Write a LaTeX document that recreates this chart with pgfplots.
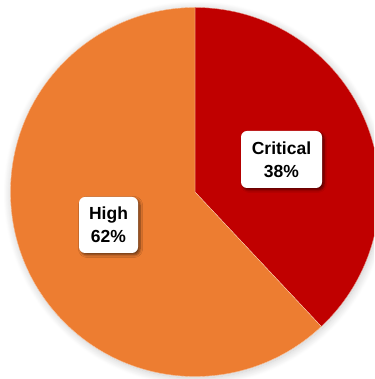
\documentclass[border=0pt]{standalone}
\usepackage{fontspec}
\setmainfont{Liberation Sans}
\usepackage{pgfplots}
\usepackage{pgfplotstable}
\pgfplotsset{compat=1.18}
\usetikzlibrary{shadows.blur}
\definecolor{crit}{HTML}{C00000}
\definecolor{high}{HTML}{ED7D31}
\begin{document}
\begin{tikzpicture}
\pgfplotstableread{
label value
Critical 38
High 62
}\piedata
\pgfplotstablegetelem{0}{value}\of\piedata \let\vA\pgfplotsretval
\pgfplotstablegetelem{1}{value}\of\piedata \let\vB\pgfplotsretval
\pgfmathsetmacro\aEnd{90-\vA*3.6}
\pgfmathsetmacro\bEnd{\aEnd-\vB*3.6}
\begin{axis}[
  hide axis, scale only axis,
  width=374pt, height=379pt,
  xmin=0, xmax=374, ymin=0, ymax=379,
  clip=true,
]
\fill[high, blur shadow={shadow xshift=1pt, shadow yshift=-1.5pt, shadow blur steps=16, shadow blur radius=8pt, shadow opacity=22}]
  (axis cs:195,187) circle[radius=184.5pt];
\fill[crit, draw=white!70!crit, line width=0.3pt] (axis cs:195,187) -- ++(90:184.5pt) arc[start angle=90, end angle=\aEnd, radius=184.5pt] -- cycle;
\fill[high, draw=white!70!high, line width=0.3pt] (axis cs:195,187) -- ++(\aEnd:184.5pt) arc[start angle=\aEnd, end angle=\bEnd, radius=184.5pt] -- cycle;
\node[fill=white, rounded corners=6pt, minimum width=81pt, minimum height=57pt, align=center, inner sep=0pt,
  font=\fontsize{17.5}{23}\selectfont\bfseries,
  blur shadow={shadow xshift=2pt, shadow yshift=-2pt, shadow blur steps=6, shadow blur radius=2.5pt, shadow opacity=55}]
  at (axis cs:281.5,219.5) {Critical\\\vA\%};
\node[fill=white, rounded corners=6pt, minimum width=59pt, minimum height=56pt, align=center, inner sep=0pt,
  font=\fontsize{17.5}{23}\selectfont\bfseries,
  blur shadow={shadow xshift=2pt, shadow yshift=-2pt, shadow blur steps=6, shadow blur radius=2.5pt, shadow opacity=55}]
  at (axis cs:108.5,154) {High\\\vB\%};
\end{axis}
\pgfresetboundingbox
\useasboundingbox (current axis.south west) rectangle (current axis.north east);
\end{tikzpicture}
\end{document}
